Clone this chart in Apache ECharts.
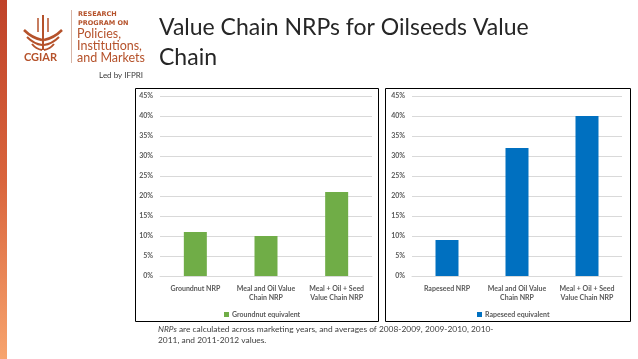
<!DOCTYPE html>
<html><head><meta charset="utf-8">
<script src="https://cdn.jsdelivr.net/npm/echarts@6/dist/echarts.min.js"></script>
<style>html,body{margin:0;padding:0;background:#fff}#c{width:638px;height:359px}</style>
</head><body><div id="c"></div>
<script>
const leftCategories = ['Groundnut NRP', 'Meal and Oil Value\nChain NRP', 'Meal + Oil + Seed\nValue Chain NRP'];
const rightCategories = ['Rapeseed NRP', 'Meal and Oil Value\nChain NRP', 'Meal + Oil + Seed\nValue Chain NRP'];
const groundnutValues = [11, 10, 21];
const rapeseedValues = [9, 32, 40];
const leftSeriesName = 'Groundnut equivalent';
const rightSeriesName = 'Rapeseed equivalent';
const yMin = 0, yMax = 45, yInterval = 5;

const FONT = 'Lato, "Open Sans", sans-serif';
const axisLabelStyle = {color: '#595959', fontSize: 7, fontWeight: 'bold', fontFamily: FONT};
const logoColor = '#b5522b';

function yAxis(idx) {
  return {
    type: 'value', gridIndex: idx, min: yMin, max: yMax, interval: yInterval,
    axisLabel: Object.assign({formatter: '{value}%', margin: 7}, axisLabelStyle),
    axisLine: {show: false}, axisTick: {show: false},
    splitLine: {lineStyle: {color: '#d9d9d9', width: 1}}
  };
}
function xAxis(idx, cats) {
  return {
    type: 'category', gridIndex: idx, data: cats,
    axisLabel: Object.assign({margin: 8, lineHeight: 9, interval: 0}, axisLabelStyle),
    axisLine: {lineStyle: {color: '#d9d9d9'}}, axisTick: {show: false}
  };
}

const chart = echarts.init(document.getElementById('c'), null, {renderer: 'canvas'});
chart.setOption({
  animation: false,
  backgroundColor: '#ffffff',
  grid: [
    {left: 160, right: 266, top: 96, bottom: 83},
    {left: 412, right: 16, top: 96, bottom: 83}
  ],
  xAxis: [xAxis(0, leftCategories), xAxis(1, rightCategories)],
  yAxis: [yAxis(0), yAxis(1)],
  legend: [
    {data: [leftSeriesName], left: 219, top: 306, itemWidth: 5, itemHeight: 5, itemGap: 4, icon: 'rect',
     textStyle: {color: '#595959', fontSize: 7, fontWeight: 'bold', fontFamily: FONT, padding: [0,0,0,-2]}},
    {data: [rightSeriesName], left: 472, top: 306, itemWidth: 5, itemHeight: 5, itemGap: 4, icon: 'rect',
     textStyle: {color: '#595959', fontSize: 7, fontWeight: 'bold', fontFamily: FONT, padding: [0,0,0,-2]}}
  ],
  series: [
    {name: leftSeriesName, type: 'bar', xAxisIndex: 0, yAxisIndex: 0, data: groundnutValues, barWidth: 23,
     itemStyle: {color: '#70ad47'}},
    {name: rightSeriesName, type: 'bar', xAxisIndex: 1, yAxisIndex: 1, data: rapeseedValues, barWidth: 23,
     itemStyle: {color: '#0070c0'}}
  ],
  graphic: [
    {type: 'rect', shape: {x: 0, y: 0, width: 7, height: 359}, silent: true,
     style: {fill: new echarts.graphic.LinearGradient(0, 0, 0, 1, [
       {offset: 0, color: '#bf4229'}, {offset: 0.5, color: '#d9643c'}, {offset: 1, color: '#f7a46e'}])}},
    {type: 'rect', shape: {x: 135.5, y: 88.5, width: 243, height: 233}, silent: true,
     style: {fill: 'none', stroke: '#000', lineWidth: 1}},
    {type: 'rect', shape: {x: 385.5, y: 88.5, width: 245, height: 233}, silent: true,
     style: {fill: 'none', stroke: '#000', lineWidth: 1}},
    // title
    {type: 'text', left: 159, top: 13, silent: true,
     style: {text: 'Value Chain NRPs for Oilseeds Value\nChain', fill: '#262626', font: '23px ' + FONT, lineHeight: 30}},
    // footnote
    {type: 'text', left: 158, top: 324, silent: true,
     style: {text: '{i|NRPs} are calculated across marketing years, and averages of 2008-2009, 2009-2010, 2010-\n2011, and 2011-2012 values.',
       fill: '#404040', font: '8.4px ' + FONT, lineHeight: 11,
       rich: {i: {fontStyle: 'italic', fontSize: 8.4, fontFamily: FONT, fill: '#404040'}}}},
    // logo text
    {type: 'text', left: 24, top: 52, silent: true, style: {text: 'CGIAR', fill: logoColor, font: 'bold 11px ' + FONT}},
    {type: 'line', shape: {x1: 71.5, y1: 10, x2: 71.5, y2: 63}, silent: true, style: {stroke: '#d7b5a6', lineWidth: 1}},
    {type: 'text', left: 78, top: 10, silent: true, style: {text: 'RESEARCH\nPROGRAM ON', fill: logoColor, font: 'bold 6.5px "DejaVu Sans", sans-serif', lineHeight: 9}},
    {type: 'text', left: 77, top: 27, silent: true, style: {text: 'Policies,\nInstitutions,\nand Markets', fill: logoColor, font: '12.5px ' + FONT, lineHeight: 12}},
    {type: 'text', right: 638 - 143, top: 71, silent: true, style: {text: 'Led by IFPRI', fill: '#3a3a3a', font: '8px ' + FONT}},
    // simple emblem
    {type: 'group', silent: true, children: [
      {type: 'line', shape: {x1: 43, y1: 15, x2: 43, y2: 50}, style: {stroke: logoColor, lineWidth: 2}},
      {type: 'line', shape: {x1: 38, y1: 18, x2: 38, y2: 32}, style: {stroke: logoColor, lineWidth: 1.5}},
      {type: 'line', shape: {x1: 48, y1: 18, x2: 48, y2: 32}, style: {stroke: logoColor, lineWidth: 1.5}},
      {type: 'bezierCurve', shape: {x1: 24, y1: 30, cpx1: 32, cpy1: 38, x2: 42, y2: 40}, style: {stroke: logoColor, lineWidth: 2.5, fill: 'none'}},
      {type: 'bezierCurve', shape: {x1: 62, y1: 30, cpx1: 54, cpy1: 38, x2: 44, y2: 40}, style: {stroke: logoColor, lineWidth: 2.5, fill: 'none'}},
      {type: 'bezierCurve', shape: {x1: 27, y1: 37, cpx1: 34, cpy1: 44, x2: 42, y2: 45}, style: {stroke: logoColor, lineWidth: 2, fill: 'none'}},
      {type: 'bezierCurve', shape: {x1: 59, y1: 37, cpx1: 52, cpy1: 44, x2: 44, y2: 45}, style: {stroke: logoColor, lineWidth: 2, fill: 'none'}},
      {type: 'bezierCurve', shape: {x1: 32, y1: 44, cpx1: 36, cpy1: 49, x2: 42, y2: 50}, style: {stroke: logoColor, lineWidth: 2, fill: 'none'}},
      {type: 'bezierCurve', shape: {x1: 54, y1: 44, cpx1: 50, cpy1: 49, x2: 44, y2: 50}, style: {stroke: logoColor, lineWidth: 2, fill: 'none'}}
    ]}
  ]
});
</script></body></html>
